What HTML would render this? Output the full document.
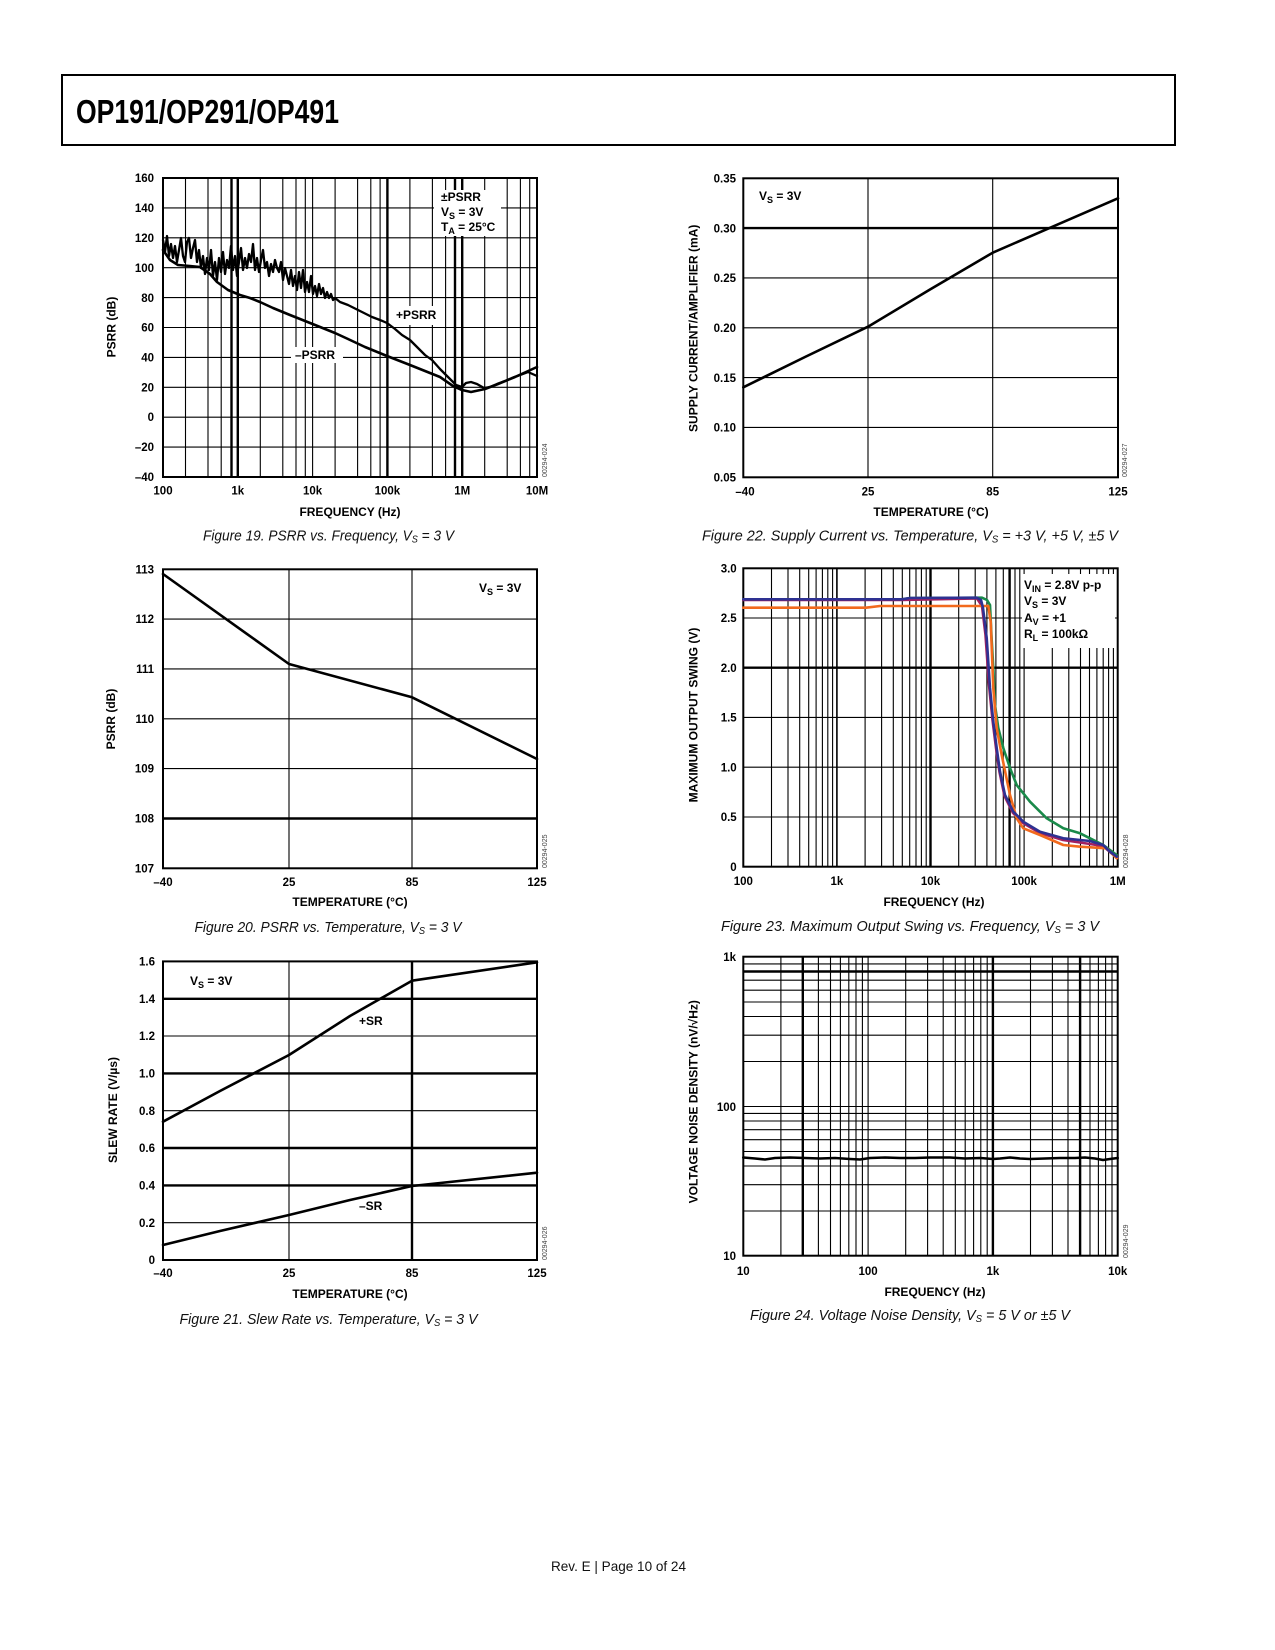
<!DOCTYPE html>
<html>
<head>
<meta charset="utf-8">
<style>
html,body{margin:0;padding:0;background:#fff;}
svg{display:block;}
.t{font-family:"Liberation Sans",Arial,sans-serif;font-weight:bold;font-size:11.5px;fill:#000;}
.ax{font-family:"Liberation Sans",Arial,sans-serif;font-weight:bold;font-size:12px;fill:#000;}
.lg{font-family:"Liberation Sans",Arial,sans-serif;font-weight:bold;font-size:12px;fill:#000;}
.cap{font-family:"Liberation Sans",Arial,sans-serif;font-style:italic;font-size:15px;fill:#111;}
.id{font-family:"Liberation Sans",Arial,sans-serif;font-size:7px;fill:#444;}
.g{stroke:#000;stroke-width:1.1;fill:none;}
.gk{stroke:#000;stroke-width:2.4;fill:none;}
.bd{stroke:#000;stroke-width:2;fill:none;}
.cv{stroke-width:2.6;fill:none;stroke-linejoin:round;stroke-linecap:round;}
</style>
</head>
<body>
<svg width="1275" height="1650" viewBox="0 0 1275 1650" xmlns="http://www.w3.org/2000/svg">
<rect x="0" y="0" width="1275" height="1650" fill="#fff"/>

<!-- Header -->
<rect x="62" y="75" width="1113" height="70" fill="none" stroke="#000" stroke-width="2"/>
<text x="76" y="123" font-family="'Liberation Sans',Arial,sans-serif" font-weight="bold" font-size="33" textLength="263" lengthAdjust="spacingAndGlyphs">OP191/OP291/OP491</text>

<!-- ============ CHART 19 ============ -->
<g>
<path class="g" d="M163,207.9H537M163,237.8H537M163,267.7H537M163,297.6H537M163,327.5H537M163,357.4H537M163,387.3H537M163,417.2H537M163,447.1H537"/>
<path class="g" d="M185.5,178V477M208,178V477M221.2,178V477M260.3,178V477M282.8,178V477M296,178V477M305.3,178V477M312.6,178V477M335.1,178V477M357.6,178V477M370.8,178V477M380.1,178V477M409.9,178V477M432.4,178V477M445.6,178V477M484.7,178V477M507.2,178V477M520.4,178V477M529.7,178V477"/>
<path class="gk" d="M231.5,178V477M237.8,178V477M387.4,178V477M455,178V477M462.2,178V477"/>
<rect x="434" y="190" width="67" height="46" fill="#fff"/>
<rect x="392" y="306" width="41" height="19" fill="#fff"/>
<rect x="291" y="347" width="52" height="16" fill="#fff"/>
<rect class="bd" x="163" y="178" width="374" height="299"/>
<!-- -PSRR -->
<path class="cv" style="stroke:#000" d="M163,250 L170,260 L178,265 L190,266 L200,267 L210,274 L217,282 L228,290 L240,295 L250,298 L260,302 L273,308 L290,315 L312.6,324 L335,333 L348,339 L365,347 L387,356 L410,365 L425,371 L440,377 L453,386 L462,390 L471,392 L485,389 L498,384 L515,377 L537,367"/>
<!-- +PSRR noisy -->
<path class="cv" style="stroke:#000;stroke-width:2.3" d="M163,240 L165,252 L167,236 L169,256 L171,244 L173,258 L175,246 L177,262 L179,250 L181,238 L183,256 L185,262 L187,242 L189,238 L191,258 L193,248 L195,240 L197,262 L199,250 L201,268 L203,256 L205,274 L207,258 L209,270 L211,250 L213,276 L215,262 L217,280 L219,258 L221,272 L223,252 L225,274 L227,260 L229,268 L231,246 L233,270 L235,256 L237,276 L239,262 L241,248 L243,270 L245,258 L247,268 L249,254 L251,262 L253,244 L255,270 L257,258 L259,272 L261,260 L263,250 L265,268 L267,262 L269,276 L271,264 L273,272 L275,260 L277,268 L279,272 L281,262 L283,280 L285,268 L287,276 L289,284 L291,270 L293,286 L295,276 L297,290 L299,272 L301,288 L303,270 L305,292 L307,282 L309,292 L311,276 L313,294 L315,286 L317,296 L319,284 L321,294 L323,288 L325,298 L327,292 L329,298 L331,294 L333,300 L335,298 L340,302 L348,305 L356,309 L364,313 L372,317 L380,320 L387,323 L395,329 L402,335 L410,340 L418,348 L425,355 L432,360 L440,369 L447,376 L451,380 L456,385 L462,387 L466,383 L471,382 L477,384 L484,388 L490,387 L497,384 L505,381 L512,378 L520,375 L528,372 L537,376"/>
<text class="lg" x="441" y="201">±PSRR</text>
<text class="lg" x="441" y="216">V<tspan font-size="9" dy="3">S</tspan><tspan dy="-3"> = 3V</tspan></text>
<text class="lg" x="441" y="231">T<tspan font-size="9" dy="3">A</tspan><tspan dy="-3"> = 25°C</tspan></text>
<text class="lg" x="396" y="319">+PSRR</text>
<text class="lg" x="295" y="359">–PSRR</text>
<g class="t" text-anchor="end">
<text x="154" y="182">160</text><text x="154" y="212">140</text><text x="154" y="242">120</text><text x="154" y="272">100</text><text x="154" y="302">80</text><text x="154" y="331.5">60</text><text x="154" y="361.5">40</text><text x="154" y="391.5">20</text><text x="154" y="421">0</text><text x="154" y="451">–20</text><text x="154" y="481">–40</text>
</g>
<g class="t" text-anchor="middle">
<text x="163" y="494.5">100</text><text x="237.8" y="494.5">1k</text><text x="312.6" y="494.5">10k</text><text x="387.4" y="494.5">100k</text><text x="462.2" y="494.5">1M</text><text x="537" y="494.5">10M</text>
</g>
<text class="ax" x="350" y="516" text-anchor="middle">FREQUENCY (Hz)</text>
<text class="ax" transform="translate(115.5,327) rotate(-90)" text-anchor="middle">PSRR (dB)</text>
<text class="id" transform="translate(547,477) rotate(-90)">00294-024</text>
</g>
<text class="cap" x="203" y="540.5" textLength="251" lengthAdjust="spacingAndGlyphs">Figure 19. PSRR vs. Frequency, V<tspan font-size="10" dy="2">S</tspan><tspan dy="-2"> = 3 V</tspan></text>

<!-- ============ CHART 20 ============ -->
<g>
<path class="g" d="M163,619.1H537M163,668.9H537M163,718.8H537M163,768.6H537M289,569.3V868.3M412,569.3V868.3"/>
<path class="gk" d="M163,818.5H537"/>
<rect class="bd" x="163" y="569.3" width="374" height="299"/>
<path class="cv" style="stroke:#000" d="M163,574 L289,664 L412,697.3 L537,759"/>
<text class="lg" x="479" y="592">V<tspan font-size="9" dy="3">S</tspan><tspan dy="-3"> = 3V</tspan></text>
<g class="t" text-anchor="end">
<text x="154" y="573.5">113</text><text x="154" y="623">112</text><text x="154" y="673">111</text><text x="154" y="723">110</text><text x="154" y="772.5">109</text><text x="154" y="822.5">108</text><text x="154" y="872.5">107</text>
</g>
<g class="t" text-anchor="middle">
<text x="163" y="886">–40</text><text x="289" y="886">25</text><text x="412" y="886">85</text><text x="537" y="886">125</text>
</g>
<text class="ax" x="350" y="906" text-anchor="middle">TEMPERATURE (°C)</text>
<text class="ax" transform="translate(115,719) rotate(-90)" text-anchor="middle">PSRR (dB)</text>
<text class="id" transform="translate(547,868) rotate(-90)">00294-025</text>
</g>
<text class="cap" x="194.5" y="932" textLength="267" lengthAdjust="spacingAndGlyphs">Figure 20. PSRR vs. Temperature, V<tspan font-size="10" dy="2">S</tspan><tspan dy="-2"> = 3 V</tspan></text>

<!-- ============ CHART 21 ============ -->
<g>
<path class="g" d="M163,1222.7H537M163,1110.7H537M163,1036H537M289,961.4V1260"/>
<path class="gk" d="M163,1185.4H537M163,1148H537M163,1073.4H537M163,998.8H537M412,961.4V1260"/>
<rect class="bd" x="163" y="961.4" width="374" height="298.6"/>
<path class="cv" style="stroke:#000" d="M163,1121.7 L220,1091 L289,1055 L350,1016 L412,980.7 L537,962.3"/>
<path class="cv" style="stroke:#000" d="M163,1245 L220,1231 L289,1215 L350,1200 L412,1186 L537,1172.7"/>
<text class="lg" x="190" y="985">V<tspan font-size="9" dy="3">S</tspan><tspan dy="-3"> = 3V</tspan></text>
<text class="lg" x="359" y="1025">+SR</text>
<text class="lg" x="359" y="1210">–SR</text>
<g class="t" text-anchor="end">
<text x="155" y="965.5">1.6</text><text x="155" y="1003">1.4</text><text x="155" y="1040">1.2</text><text x="155" y="1077.5">1.0</text><text x="155" y="1115">0.8</text><text x="155" y="1152">0.6</text><text x="155" y="1189.5">0.4</text><text x="155" y="1227">0.2</text><text x="155" y="1264">0</text>
</g>
<g class="t" text-anchor="middle">
<text x="163" y="1277">–40</text><text x="289" y="1277">25</text><text x="412" y="1277">85</text><text x="537" y="1277">125</text>
</g>
<text class="ax" x="350" y="1298" text-anchor="middle">TEMPERATURE (°C)</text>
<text class="ax" transform="translate(117,1110) rotate(-90)" text-anchor="middle">SLEW RATE (V/µs)</text>
<text class="id" transform="translate(547,1260) rotate(-90)">00294-026</text>
</g>
<text class="cap" x="179.5" y="1324" textLength="298" lengthAdjust="spacingAndGlyphs">Figure 21. Slew Rate vs. Temperature, V<tspan font-size="10" dy="2">S</tspan><tspan dy="-2"> = 3 V</tspan></text>

<!-- ============ CHART 22 ============ -->
<g>
<path class="g" d="M743.3,427.4H1118M743.3,377.6H1118M743.3,327.8H1118M743.3,277.9H1118M868,178.3V477.3M992.7,178.3V477.3"/>
<path class="gk" d="M743.3,228.1H1118"/>
<rect class="bd" x="743.3" y="178.3" width="374.7" height="299"/>
<path class="cv" style="stroke:#000" d="M743.3,387.3 L805,357 L868,326.7 L930,289.5 L992.7,252.7 L1050,227.8 L1118,198.3"/>
<text class="lg" x="759" y="200">V<tspan font-size="9" dy="3">S</tspan><tspan dy="-3"> = 3V</tspan></text>
<g class="t" text-anchor="end">
<text x="736" y="182.5">0.35</text><text x="736" y="232.5">0.30</text><text x="736" y="282">0.25</text><text x="736" y="332">0.20</text><text x="736" y="382">0.15</text><text x="736" y="431.5">0.10</text><text x="736" y="481.5">0.05</text>
</g>
<g class="t" text-anchor="middle">
<text x="745" y="495.5">–40</text><text x="868" y="495.5">25</text><text x="992.7" y="495.5">85</text><text x="1118" y="495.5">125</text>
</g>
<text class="ax" x="931" y="516" text-anchor="middle">TEMPERATURE (°C)</text>
<text class="ax" transform="translate(697.5,328.3) rotate(-90)" text-anchor="middle">SUPPLY CURRENT/AMPLIFIER (mA)</text>
<text class="id" transform="translate(1127,477) rotate(-90)">00294-027</text>
</g>
<text class="cap" x="702" y="540.5" textLength="416" lengthAdjust="spacingAndGlyphs">Figure 22. Supply Current vs. Temperature, V<tspan font-size="10" dy="2">S</tspan><tspan dy="-2"> = +3 V, +5 V, ±5 V</tspan></text>

<!-- ============ CHART 23 ============ -->
<g>
<path class="g" d="M743.3,618H1117.7M743.3,717.4H1117.7M743.3,767.2H1117.7M743.3,817H1117.7"/>
<path class="gk" d="M743.3,667.7H1117.7"/>
<path class="g" d="M771.5,568.3V866.7M788,568.3V866.7M799.7,568.3V866.7M808.7,568.3V866.7M816.1,568.3V866.7M822.4,568.3V866.7M827.8,568.3V866.7M832.6,568.3V866.7M865.1,568.3V866.7M881.6,568.3V866.7M893.3,568.3V866.7M902.3,568.3V866.7M909.7,568.3V866.7M916,568.3V866.7M921.4,568.3V866.7M926.2,568.3V866.7M958.7,568.3V866.7M975.2,568.3V866.7M986.9,568.3V866.7M995.9,568.3V866.7M1003.3,568.3V866.7M1015,568.3V866.7M1019.8,568.3V866.7M1024.1,568.3V866.7M1052.3,568.3V866.7M1068.8,568.3V866.7M1080.5,568.3V866.7M1089.5,568.3V866.7M1096.9,568.3V866.7M1103.2,568.3V866.7M1108.6,568.3V866.7M1113.4,568.3V866.7"/>
<path class="g" style="stroke-width:1.6" d="M836.9,568.3V866.7"/>
<path class="gk" d="M930.5,568.3V866.7M1009.6,568.3V866.7"/>
<rect x="1022" y="574" width="93" height="74" fill="#fff"/>
<rect class="bd" x="743.3" y="568.3" width="374.4" height="298.4"/>
<path class="cv" style="stroke:#1a8a4a" d="M743.3,599.3 L902,599.3 L910,598 L982,597.7 L987,600 L990,605 L991.7,640 L993.3,668 L995,705 L998.3,728 L1003.3,748 L1010,768 L1016.7,785 L1030,801.7 L1046.7,818.3 L1063.3,828.3 L1080,833.3 L1090,838.3 L1103.3,845 L1116.7,855"/>
<path class="cv" style="stroke:#a3205f" d="M743.3,600 L902,600 L977,598.5 L982,606 L985.5,635 L989,685 L992.5,720 L996,748 L999.5,772 L1004.5,796 L1013,813 L1023,823 L1040,833 L1063,840 L1090,844 L1103,846 L1110,852 L1117,858"/>
<path class="cv" style="stroke:#f26a1d" d="M743.3,607.7 L866,607.7 L880,606 L988.3,606 L990.7,621.7 L993.3,688 L996.7,728 L1001.7,755 L1010,795 L1016.7,818.3 L1023.3,828.3 L1040,835 L1063.3,845 L1080,846.7 L1106.7,848.3 L1116.7,858.3"/>
<path class="cv" style="stroke:#2e3192" d="M743.3,599.3 L902,599.3 L910,598 L977,597.7 L981,600 L983,608 L986.7,638 L990,688 L993.3,721.7 L996.7,748 L1000,771.7 L1005,795 L1013.3,811.7 L1023.3,821.7 L1040,831.7 L1063.3,838.3 L1090,841 L1103,845 L1110,851.7 L1116.7,856.7"/>
<text class="lg" x="1024" y="589">V<tspan font-size="9" dy="3">IN</tspan><tspan dy="-3"> = 2.8V p-p</tspan></text>
<text class="lg" x="1024" y="605">V<tspan font-size="9" dy="3">S</tspan><tspan dy="-3"> = 3V</tspan></text>
<text class="lg" x="1024" y="622">A<tspan font-size="9" dy="3">V</tspan><tspan dy="-3"> = +1</tspan></text>
<text class="lg" x="1024" y="638">R<tspan font-size="9" dy="3">L</tspan><tspan dy="-3"> = 100kΩ</tspan></text>
<g class="t" text-anchor="end">
<text x="736.7" y="572.5">3.0</text><text x="736.7" y="622">2.5</text><text x="736.7" y="672">2.0</text><text x="736.7" y="721.5">1.5</text><text x="736.7" y="771.5">1.0</text><text x="736.7" y="821">0.5</text><text x="736.7" y="871">0</text>
</g>
<g class="t" text-anchor="middle">
<text x="743.3" y="885">100</text><text x="836.9" y="885">1k</text><text x="930.5" y="885">10k</text><text x="1024.1" y="885">100k</text><text x="1117.7" y="885">1M</text>
</g>
<text class="ax" x="934" y="906" text-anchor="middle">FREQUENCY (Hz)</text>
<text class="ax" transform="translate(697.5,715) rotate(-90)" text-anchor="middle">MAXIMUM OUTPUT SWING (V)</text>
<text class="id" transform="translate(1128,868) rotate(-90)">00294-028</text>
</g>
<text class="cap" x="721" y="931" textLength="378" lengthAdjust="spacingAndGlyphs">Figure 23. Maximum Output Swing vs. Frequency, V<tspan font-size="10" dy="2">S</tspan><tspan dy="-2"> = 3 V</tspan></text>

<!-- ============ CHART 24 ============ -->
<g>
<path class="g" d="M743.3,1211H1117.7M743.3,1184.7H1117.7M743.3,1166H1117.7M743.3,1151.5H1117.7M743.3,1139.7H1117.7M743.3,1129.7H1117.7M743.3,1121H1117.7M743.3,1113.4H1117.7M743.3,1106.5H1117.7M743.3,1061.5H1117.7M743.3,1035.2H1117.7M743.3,1016.5H1117.7M743.3,1002H1117.7M743.3,990.2H1117.7M743.3,980.2H1117.7M743.3,963.9H1117.7"/>
<path class="gk" d="M743.3,971.5H1117.7"/>
<path class="g" d="M780.9,956.7V1255.7M818.4,956.7V1255.7M830.5,956.7V1255.7M840.4,956.7V1255.7M848.8,956.7V1255.7M856,956.7V1255.7M862.4,956.7V1255.7M868.1,956.7V1255.7M905.7,956.7V1255.7M927.6,956.7V1255.7M943.2,956.7V1255.7M955.3,956.7V1255.7M965.2,956.7V1255.7M973.6,956.7V1255.7M980.8,956.7V1255.7M987.2,956.7V1255.7M1030.5,956.7V1255.7M1052.4,956.7V1255.7M1068,956.7V1255.7M1090,956.7V1255.7M1098.4,956.7V1255.7M1105.6,956.7V1255.7M1112,956.7V1255.7"/>
<path class="gk" d="M802.8,956.7V1255.7M992.9,956.7V1255.7M1080.1,956.7V1255.7"/>
<rect class="bd" x="743.3" y="956.7" width="374.4" height="299"/>
<path class="cv" style="stroke:#000" d="M743.3,1157.5 L755,1158.5 L765,1159.5 L775,1158 L790,1157.5 L805,1158 L820,1158.5 L835,1158 L850,1159 L860,1159.5 L870,1158 L885,1157.5 L900,1158 L915,1158 L930,1157.5 L950,1157.5 L965,1158.5 L980,1158 L993,1159 L1000,1158.5 L1010,1157.5 L1020,1158.5 L1030,1159 L1045,1158.5 L1060,1158 L1075,1158 L1085,1157.5 L1095,1158.5 L1103,1160 L1110,1159 L1117.7,1158"/>
<g class="t" text-anchor="end">
<text x="736" y="961">1k</text><text x="736" y="1111">100</text><text x="736" y="1260">10</text>
</g>
<g class="t" text-anchor="middle">
<text x="743.3" y="1275">10</text><text x="868.1" y="1275">100</text><text x="992.9" y="1275">1k</text><text x="1117.7" y="1275">10k</text>
</g>
<text class="ax" x="935" y="1296" text-anchor="middle">FREQUENCY (Hz)</text>
<text class="ax" transform="translate(697.5,1101.7) rotate(-90)" text-anchor="middle">VOLTAGE NOISE DENSITY (nV/√Hz)</text>
<text class="id" transform="translate(1128,1258) rotate(-90)">00294-029</text>
</g>
<text class="cap" x="750" y="1320" textLength="320" lengthAdjust="spacingAndGlyphs">Figure 24. Voltage Noise Density, V<tspan font-size="10" dy="2">S</tspan><tspan dy="-2"> = 5 V or ±5 V</tspan></text>

<!-- Footer -->
<text x="551" y="1571" font-family="'Liberation Sans',Arial,sans-serif" font-size="14" fill="#111" textLength="135" lengthAdjust="spacingAndGlyphs">Rev. E | Page 10 of 24</text>
</svg>
</body>
</html>
